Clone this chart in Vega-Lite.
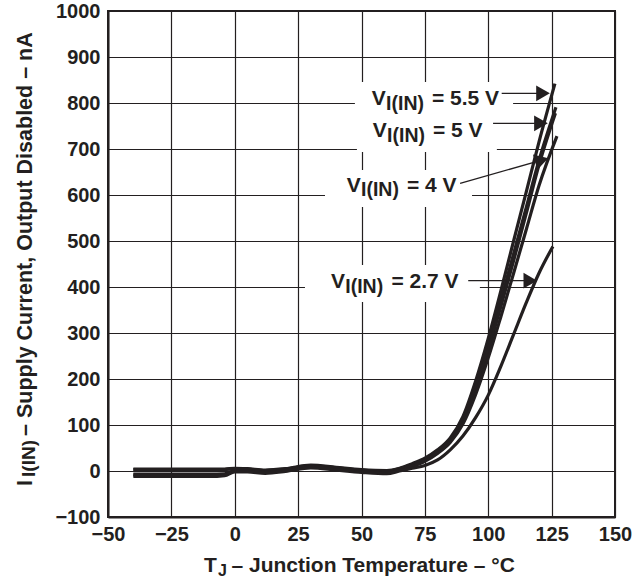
{
  "$schema": "https://vega.github.io/schema/vega-lite/v6.json",
  "width": 507,
  "height": 506,
  "autosize": {"type": "none"},
  "padding": {"left": 108, "top": 11, "right": 26, "bottom": 64},
  "background": "white",
  "config": {
    "font": "Liberation Sans",
    "view": {"stroke": "#231f20", "strokeWidth": 2},
    "axis": {
      "domainColor": "#231f20", "domainWidth": 2,
      "grid": true, "gridColor": "#231f20", "gridWidth": 1.2, "gridOpacity": 1,
      "ticks": false, "tickSize": 0,
      "labelFont": "Liberation Sans", "labelFontWeight": "bold", "labelFontSize": 20,
      "labelColor": "#231f20", "labelFlush": false, "labelOverlap": false,
      "title": null
    }
  },
  "datasets": {
    "curves": [
      {"s":"5.5 V","T":-40,"I":4},{"s":"5.5 V","T":-25,"I":4},{"s":"5.5 V","T":-10,"I":4},{"s":"5.5 V","T":-4,"I":4},{"s":"5.5 V","T":0,"I":6},{"s":"5.5 V","T":5,"I":5},{"s":"5.5 V","T":12,"I":2},{"s":"5.5 V","T":20,"I":5},{"s":"5.5 V","T":30,"I":13},{"s":"5.5 V","T":40,"I":8},{"s":"5.5 V","T":50,"I":3},{"s":"5.5 V","T":60,"I":1},{"s":"5.5 V","T":65,"I":6},{"s":"5.5 V","T":70,"I":16},{"s":"5.5 V","T":75,"I":28},{"s":"5.5 V","T":80,"I":46},{"s":"5.5 V","T":85,"I":72},{"s":"5.5 V","T":90,"I":118},{"s":"5.5 V","T":95,"I":195},{"s":"5.5 V","T":100,"I":288},{"s":"5.5 V","T":105,"I":392},{"s":"5.5 V","T":110,"I":500},{"s":"5.5 V","T":115,"I":607},{"s":"5.5 V","T":120,"I":715},{"s":"5.5 V","T":126.3,"I":842},
      {"s":"5 V","T":-40,"I":3},{"s":"5 V","T":-25,"I":3},{"s":"5 V","T":-10,"I":3},{"s":"5 V","T":-4,"I":3},{"s":"5 V","T":0,"I":5},{"s":"5 V","T":5,"I":4},{"s":"5 V","T":12,"I":1},{"s":"5 V","T":20,"I":4},{"s":"5 V","T":30,"I":12},{"s":"5 V","T":40,"I":7},{"s":"5 V","T":50,"I":2},{"s":"5 V","T":60,"I":0},{"s":"5 V","T":65,"I":5},{"s":"5 V","T":70,"I":14},{"s":"5 V","T":75,"I":26},{"s":"5 V","T":80,"I":44},{"s":"5 V","T":85,"I":68},{"s":"5 V","T":90,"I":112},{"s":"5 V","T":95,"I":185},{"s":"5 V","T":100,"I":274},{"s":"5 V","T":105,"I":372},{"s":"5 V","T":110,"I":472},{"s":"5 V","T":115,"I":573},{"s":"5 V","T":120,"I":675},{"s":"5 V","T":126.7,"I":791},
      {"s":"unlabeled","T":-40,"I":-7},{"s":"unlabeled","T":-25,"I":-7},{"s":"unlabeled","T":-10,"I":-7},{"s":"unlabeled","T":-4,"I":-6},{"s":"unlabeled","T":0,"I":1},{"s":"unlabeled","T":5,"I":1},{"s":"unlabeled","T":12,"I":-2},{"s":"unlabeled","T":20,"I":2},{"s":"unlabeled","T":30,"I":10},{"s":"unlabeled","T":40,"I":5},{"s":"unlabeled","T":50,"I":0},{"s":"unlabeled","T":60,"I":-3},{"s":"unlabeled","T":65,"I":3},{"s":"unlabeled","T":70,"I":12},{"s":"unlabeled","T":75,"I":24},{"s":"unlabeled","T":80,"I":42},{"s":"unlabeled","T":85,"I":66},{"s":"unlabeled","T":90,"I":108},{"s":"unlabeled","T":95,"I":178},{"s":"unlabeled","T":100,"I":263},{"s":"unlabeled","T":105,"I":358},{"s":"unlabeled","T":110,"I":457},{"s":"unlabeled","T":115,"I":560},{"s":"unlabeled","T":120,"I":665},{"s":"unlabeled","T":126.5,"I":778},
      {"s":"4 V","T":-40,"I":-9},{"s":"4 V","T":-25,"I":-9},{"s":"4 V","T":-10,"I":-9},{"s":"4 V","T":-4,"I":-8},{"s":"4 V","T":0,"I":0},{"s":"4 V","T":5,"I":0},{"s":"4 V","T":12,"I":-3},{"s":"4 V","T":20,"I":1},{"s":"4 V","T":30,"I":9},{"s":"4 V","T":40,"I":4},{"s":"4 V","T":50,"I":-1},{"s":"4 V","T":60,"I":-4},{"s":"4 V","T":65,"I":2},{"s":"4 V","T":70,"I":10},{"s":"4 V","T":75,"I":21},{"s":"4 V","T":80,"I":38},{"s":"4 V","T":85,"I":62},{"s":"4 V","T":90,"I":102},{"s":"4 V","T":95,"I":166},{"s":"4 V","T":100,"I":246},{"s":"4 V","T":105,"I":336},{"s":"4 V","T":110,"I":430},{"s":"4 V","T":115,"I":525},{"s":"4 V","T":120,"I":620},{"s":"4 V","T":127.1,"I":728},
      {"s":"2.7 V","T":-40,"I":-12},{"s":"2.7 V","T":-25,"I":-12},{"s":"2.7 V","T":-10,"I":-12},{"s":"2.7 V","T":-4,"I":-10},{"s":"2.7 V","T":0,"I":-2},{"s":"2.7 V","T":5,"I":-2},{"s":"2.7 V","T":12,"I":-5},{"s":"2.7 V","T":20,"I":-1},{"s":"2.7 V","T":30,"I":7},{"s":"2.7 V","T":40,"I":2},{"s":"2.7 V","T":50,"I":-3},{"s":"2.7 V","T":60,"I":-6},{"s":"2.7 V","T":65,"I":0},{"s":"2.7 V","T":70,"I":6},{"s":"2.7 V","T":75,"I":12},{"s":"2.7 V","T":80,"I":24},{"s":"2.7 V","T":85,"I":46},{"s":"2.7 V","T":90,"I":76},{"s":"2.7 V","T":95,"I":116},{"s":"2.7 V","T":100,"I":165},{"s":"2.7 V","T":105,"I":228},{"s":"2.7 V","T":110,"I":297},{"s":"2.7 V","T":115,"I":366},{"s":"2.7 V","T":120,"I":430},{"s":"2.7 V","T":125.5,"I":488}
    ],
    "boxes": [
      {"T1":47.4,"T2":109.8,"I1":845.7,"I2":763.0},
      {"T1":48.2,"T2":103.4,"I1":767.4,"I2":693.5},
      {"T1":35.6,"T2":93.6,"I1":654.3,"I2":573.9},
      {"T1":27.7,"T2":96.7,"I1":447.8,"I2":367.4}
    ],
    "arrows": [
      {"label":"5.5 V","T1":105.3,"I1":821.1,"T2":121.6,"I2":821.1},
      {"label":"5 V","T1":101.9,"I1":755.9,"T2":120.8,"I2":755.9},
      {"label":"4 V","T1":88.9,"I1":625.4,"T2":121.1,"I2":675.7},
      {"label":"2.7 V","T1":92.1,"I1":413.7,"T2":116.6,"I2":413.7}
    ],
    "heads": [
      {"label":"5.5 V","T":121.6,"I":821.1},
      {"label":"5 V","T":120.8,"I":755.9},
      {"label":"2.7 V","T":116.6,"I":413.7}
    ],
    "headsSlanted": [
      {"label":"4 V","T":121.1,"I":675.7}
    ],
    "textMain": [
      {"T":54.0,"I":795.0,"text":"V"},{"T":77.8,"I":795.0,"text":"= 5.5 V"},
      {"T":54.4,"I":725.4,"text":"V"},{"T":78.2,"I":725.4,"text":"= 5 V"},
      {"T":44.2,"I":607.2,"text":"V"},{"T":67.9,"I":607.2,"text":"= 4 V"},
      {"T":38.0,"I":397.2,"text":"V"},{"T":61.8,"I":397.2,"text":"= 2.7  V"},
      {"T":-12.1,"I":-218.9,"text":"T"},{"T":-1.3,"I":-218.9,"text":"– Junction Temperature – °C"}
    ],
    "textSub": [
      {"T":59.7,"I":785.2,"text":"I(IN)"},
      {"T":60.1,"I":715.7,"text":"I(IN)"},
      {"T":49.8,"I":597.4,"text":"I(IN)"},
      {"T":43.6,"I":387.4,"text":"I(IN)"}
    ],
    "xTitleSub": [
      {"T":-6.6,"I":-227.2,"text":"J"}
    ],
    "yTitleMain": [
      {"T":-80.0,"I":-32.6,"text":"I"},
      {"T":-80.0,"I":76.1,"text":"– Supply Current, Output Disabled – nA"}
    ],
    "yTitleSub": [
      {"T":-78.8,"I":-13.0,"text":"I(IN)"}
    ]
  },
  "layer": [
    {
      "data": {"name": "boxes"},
      "mark": {"type": "rect", "fill": "white", "stroke": null},
      "encoding": {
        "x": {"field": "T1", "type": "quantitative", "scale": {"domain": [-50, 150], "nice": false, "zero": false},
              "axis": {"values": [-50, -25, 0, 25, 50, 75, 100, 125, 150], "format": "d", "labelPadding": 7, "title": null}},
        "x2": {"field": "T2"},
        "y": {"field": "I1", "type": "quantitative", "scale": {"domain": [-100, 1000], "nice": false, "zero": false},
              "axis": {"values": [-100, 0, 100, 200, 300, 400, 500, 600, 700, 800, 900, 1000], "format": "d", "labelPadding": 8, "title": null}},
        "y2": {"field": "I2"}
      }
    },
    {
      "data": {"name": "curves"},
      "mark": {"type": "line", "interpolate": "monotone", "stroke": "#231f20", "strokeWidth": 3.2, "strokeCap": "butt"},
      "encoding": {
        "x": {"field": "T", "type": "quantitative"},
        "y": {"field": "I", "type": "quantitative"},
        "detail": {"field": "s"}
      }
    },
    {
      "data": {"name": "arrows"},
      "mark": {"type": "rule", "stroke": "#231f20", "strokeWidth": 1.3},
      "encoding": {
        "x": {"field": "T1", "type": "quantitative"},
        "x2": {"field": "T2"},
        "y": {"field": "I1", "type": "quantitative"},
        "y2": {"field": "I2"}
      }
    },
    {
      "data": {"name": "heads"},
      "mark": {"type": "point", "shape": "triangle-right", "filled": true, "fill": "#231f20", "opacity": 1, "size": 250, "strokeWidth": 0},
      "encoding": {
        "x": {"field": "T", "type": "quantitative"},
        "y": {"field": "I", "type": "quantitative"}
      }
    },
    {
      "data": {"name": "headsSlanted"},
      "mark": {"type": "point", "shape": "triangle-right", "filled": true, "fill": "#231f20", "opacity": 1, "size": 250, "strokeWidth": 0, "angle": 344},
      "encoding": {
        "x": {"field": "T", "type": "quantitative"},
        "y": {"field": "I", "type": "quantitative"}
      }
    },
    {
      "data": {"name": "textMain"},
      "mark": {"type": "text", "font": "Liberation Sans", "fontWeight": "bold", "fontSize": 21, "fill": "#231f20", "align": "left", "baseline": "alphabetic"},
      "encoding": {
        "x": {"field": "T", "type": "quantitative"},
        "y": {"field": "I", "type": "quantitative"},
        "text": {"field": "text"}
      }
    },
    {
      "data": {"name": "textSub"},
      "mark": {"type": "text", "font": "Liberation Sans", "fontWeight": "bold", "fontSize": 19.5, "fill": "#231f20", "align": "left", "baseline": "alphabetic"},
      "encoding": {
        "x": {"field": "T", "type": "quantitative"},
        "y": {"field": "I", "type": "quantitative"},
        "text": {"field": "text"}
      }
    },
    {
      "data": {"name": "xTitleSub"},
      "mark": {"type": "text", "font": "Liberation Sans", "fontWeight": "bold", "fontSize": 16, "fill": "#231f20", "align": "left", "baseline": "alphabetic"},
      "encoding": {
        "x": {"field": "T", "type": "quantitative"},
        "y": {"field": "I", "type": "quantitative"},
        "text": {"field": "text"}
      }
    },
    {
      "data": {"name": "yTitleMain"},
      "mark": {"type": "text", "font": "Liberation Sans", "fontWeight": "bold", "fontSize": 21.5, "fill": "#231f20", "align": "left", "baseline": "alphabetic", "angle": 270},
      "encoding": {
        "x": {"field": "T", "type": "quantitative"},
        "y": {"field": "I", "type": "quantitative"},
        "text": {"field": "text"}
      }
    },
    {
      "data": {"name": "yTitleSub"},
      "mark": {"type": "text", "font": "Liberation Sans", "fontWeight": "bold", "fontSize": 19, "fill": "#231f20", "align": "left", "baseline": "alphabetic", "angle": 270},
      "encoding": {
        "x": {"field": "T", "type": "quantitative"},
        "y": {"field": "I", "type": "quantitative"},
        "text": {"field": "text"}
      }
    }
  ]
}
